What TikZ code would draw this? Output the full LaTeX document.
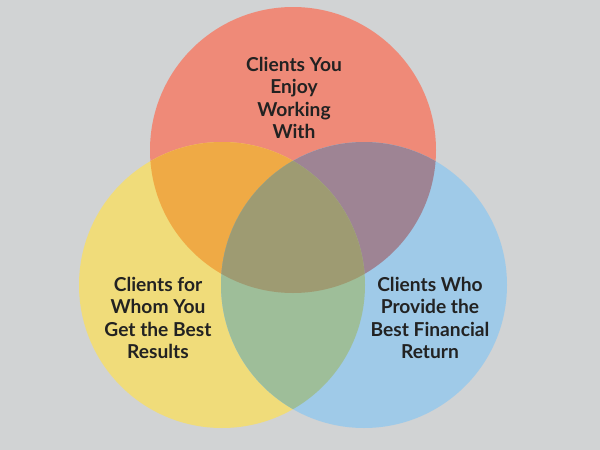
\documentclass[tikz,border=0pt]{standalone}
\usepackage{fontspec}
\setmainfont{Lato}
\definecolor{bg}{HTML}{D1D3D4}
\definecolor{redc}{HTML}{EF8A78}
\definecolor{yelc}{HTML}{F0DC7A}
\definecolor{bluc}{HTML}{9FCAE8}
\definecolor{ryc}{HTML}{EFAA45}
\definecolor{rbc}{HTML}{9E8494}
\definecolor{ybc}{HTML}{9EBE99}
\definecolor{rybc}{HTML}{9E9B72}
\definecolor{txt}{HTML}{222222}
\begin{document}
\begin{tikzpicture}[x=1pt,y=-1pt,
  venn/.style={circle, inner sep=0pt, minimum size=286pt, draw=none},
  lbl/.style={align=center, text=txt, font=\fontsize{19.2}{22.2}\selectfont\bfseries, inner sep=0pt}]
\useasboundingbox[fill=bg] (0,0) rectangle (600,450);
\def\R{143pt}
\node[venn, fill=redc] (red) at (293,150) {};
\node[venn, fill=yelc] (yel) at (222,285) {};
\node[venn, fill=bluc] (blu) at (364,285) {};
\begin{scope}
  \clip (red.center) circle[radius=\R];
  \fill[ryc] (yel.center) circle[radius=\R];
  \fill[rbc] (blu.center) circle[radius=\R];
\end{scope}
\begin{scope}
  \clip (yel.center) circle[radius=\R];
  \fill[ybc] (blu.center) circle[radius=\R];
\end{scope}
\begin{scope}
  \clip (red.center) circle[radius=\R];
  \clip (yel.center) circle[radius=\R];
  \fill[rybc] (blu.center) circle[radius=\R];
\end{scope}
\node[lbl] (tr) at (294,98) {Clients You\\Enjoy\\Working\\With};
\node[lbl] (tl) at (158,318) {Clients for\\Whom You\\Get the Best\\Results};
\node[lbl] (tb) at (430,318) {Clients Who\\Provide the\\Best Financial\\Return};
\end{tikzpicture}
\end{document}
